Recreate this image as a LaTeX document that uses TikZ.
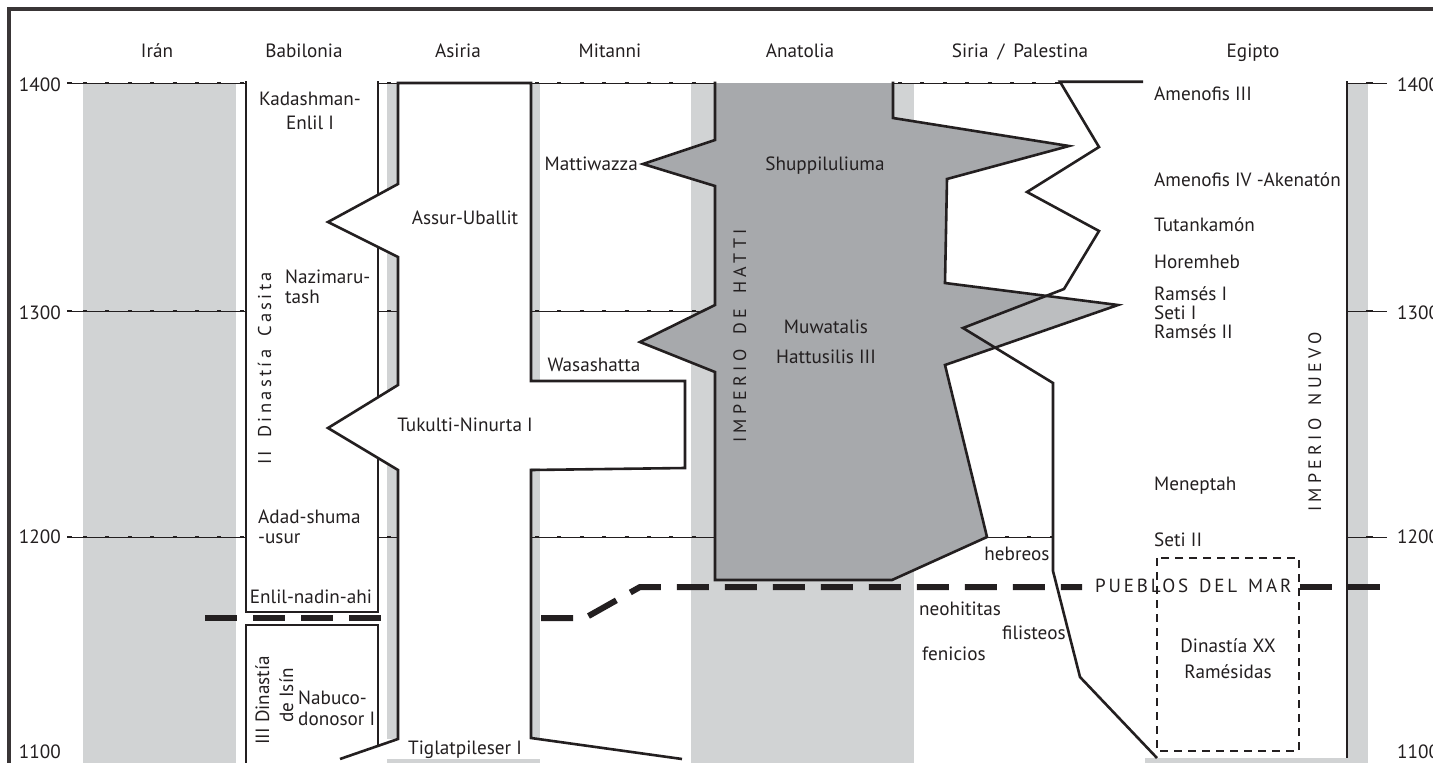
\documentclass[tikz,border=0pt]{standalone}
\usepackage{fontspec}
\setmainfont{PT Sans}
\definecolor{lg}{HTML}{D1D3D4}
\definecolor{dg}{HTML}{A7A9AC}
\definecolor{mg}{HTML}{BCBEC0}
\definecolor{ink}{HTML}{231F20}
\begin{document}
\begin{tikzpicture}[x=1pt,y=-1pt,
  bd/.style={draw=ink,line width=2.6pt,line join=miter},
  yrl/.style={draw=ink,line width=0.9pt},
  yrdots/.style={draw=ink,line width=2.6pt,dash pattern=on 4pt off 18.4pt},
  sea/.style={draw=ink,line width=6pt,dash pattern=on 32pt off 16pt},
  dbox/.style={draw=ink,line width=2pt,dash pattern=on 8pt off 6pt},
  lbl/.style={font=\fontsize{19.2}{21}\selectfont,text=ink,inner sep=0pt},
  spaced/.style={font=\fontsize{18}{20}\selectfont\addfontfeatures{LetterSpace=24},text=ink,inner sep=0pt},
  spacedlow/.style={font=\fontsize{18.5}{20}\selectfont\addfontfeatures{LetterSpace=18},text=ink,inner sep=0pt},
  spacedsea/.style={font=\fontsize{19}{21}\selectfont\addfontfeatures{LetterSpace=15},text=ink,inner sep=0pt},
]
\useasboundingbox (0,0) rectangle (1433,763);
\fill[white] (0,0) rectangle (1433,763);
% frame
\draw[draw=ink!90,line width=3.5pt] (9,763) -- (9,9) -- (1433,9);
% light gray columns
\fill[lg] (83,83) rectangle (236,763);
\fill[lg] (387,83) rectangle (398,739);
\fill[lg] (387,759) rectangle (540,763);
\fill[lg] (531,83) rectangle (540,381);
\fill[lg] (531,468) rectangle (540,738);
\fill[lg] (691,83) rectangle (914,763);
\fill[lg] (1347,83) rectangle (1368,763);
\fill[lg] (1145,758) rectangle (1368,763);
\fill[white] (398,184) -- (328,222) -- (398,257) -- cycle;
\fill[white] (398,385) -- (328,428) -- (398,470) -- cycle;
% year lines
\foreach \y in {83,311,537}{
  \draw[ink,line width=2.6pt] (67,\y) -- (72,\y);
  \draw[yrl] (72,\y) -- (246,\y);
  \draw[yrdots] (83,\y) -- (246,\y);
  \draw[yrl] (378,\y) -- (398,\y);
  \draw[yrdots] (387,\y) -- (398,\y);
  \draw[yrl] (1347,\y) -- (1387,\y);
  \draw[ink,line width=2.6pt] (1366,\y) -- (1373,\y);
}
\draw[yrl] (531,83) -- (715,83);
\draw[yrdots] (535,83) -- (715,83);
\draw[yrl] (531,311) -- (703,311);
\draw[yrdots] (535,311) -- (703,311);
\draw[yrl] (531,537) -- (715,537);
\draw[yrdots] (535,537) -- (715,537);
\draw[yrl] (893,83) -- (1060,83);
\draw[yrdots] (898,83) -- (1060,83);
\draw[yrl] (987,537) -- (1053,537);
\draw[yrdots] (1005,537) -- (1053,537);
% Hatti
\fill[dg] (715,83) -- (715,140) -- (643,164) -- (715,186) -- (715,305) -- (640,342) -- (715,372) -- (715,580) -- (892,580) -- (987,537) -- (945,365) -- (1118,305) -- (945,283) -- (947,179) -- (1069,146) -- (893,118) -- (893,83) -- cycle;
\fill[mg] (1046.6,295.9) -- (1118,305) -- (994.3,347.2) -- (963,328) -- cycle;
\draw[bd] (715,81.7) -- (715,140) -- (643,164) -- (715,186) -- (715,305) -- (640,342) -- (715,372) -- (715,580) -- (892,580) -- (987,537) -- (945,365) -- (1118,305) -- (945,283) -- (947,179) -- (1069,146) -- (893,118) -- (893,81.7);
% Siria / Palestina line
\draw[bd] (1143,81.7) -- (1060,81.7) -- (1099,147) -- (1027,192) -- (1099,231) -- (1064,289) -- (963,328) -- (1053,383) -- (1053,571) -- (1080,677) -- (1157,758);
% Egypt
\draw[bd] (1347,81) -- (1347,758);
\draw[dbox] (1157,558) rectangle (1299,751);
% Babilonia
\draw[bd] (378,81) -- (378,195);
\draw[bd] (378,247) -- (378,397);
\draw[bd] (378,458) -- (378,612) -- (246,612) -- (246,81);
\draw[bd] (246,763) -- (246,625) -- (378,625) -- (378,746);
% Asiria
\draw[bd] (340,759) -- (398,739) -- (398,470) -- (328,428) -- (398,385) -- (398,257) -- (328,222) -- (398,184) -- (398,83) -- (531,83) -- (531,381) -- (685,381) -- (685,468) -- (531,470) -- (531,738) -- (682,759);
% Pueblos del mar
\draw[sea] (205,618) -- (383,618);
\draw[sea] (541,618) -- (585,618) -- (640,587) -- (1082,587);
\draw[sea] (1300,587) -- (1380,587);
% headers
\node[lbl,anchor=base] (hIran) at (157,57) {Irán};
\node[lbl,anchor=base] (hBab) at (304,57) {Babilonia};
\node[lbl,anchor=base] (hAsi) at (458,57) {Asiria};
\node[lbl,anchor=base] (hMit) at (610,57) {Mitanni};
\node[lbl,anchor=base] (hAna) at (800,57) {Anatolia};
\node[lbl,anchor=base] (hSir) at (1020,57) {Siria\hspace{9pt}/\hspace{9pt}Palestina};
\node[lbl,anchor=base] (hEgi) at (1253,57) {Egipto};
% years
\node[lbl,anchor=base east] (yl14) at (61,91.5) {1400};
\node[lbl,anchor=base east] (yl13) at (61,319) {1300};
\node[lbl,anchor=base east] (yl12) at (61,543) {1200};
\node[lbl,anchor=base east] (yl11) at (61,758) {1100};
\node[lbl,anchor=base west] (yr14) at (1397,91.5) {1400};
\node[lbl,anchor=base west] (yr13) at (1397,319) {1300};
\node[lbl,anchor=base west] (yr12) at (1397,543) {1200};
\node[lbl,anchor=base west] (yr11) at (1397,758) {1100};
% Babilonia
\node[lbl,anchor=base] (kad1) at (310,105) {Kadashman-};
\node[lbl,anchor=base] (kad2) at (310,129) {Enlil I};
\node[lbl,anchor=base west] (naz1) at (285,283) {Nazimaru-};
\node[lbl,anchor=base west] (naz2) at (285,303) {tash};
\node[lbl,anchor=base west] (adad1) at (258,523) {Adad-shuma};
\node[lbl,anchor=base west] (adad2) at (258,543) {-usur};
\node[lbl,anchor=base] (enlil) at (311,603) {Enlil-nadin-ahi};
\node[lbl,anchor=base west] (nab1) at (298,704) {Nabuco-};
\node[lbl,anchor=base west] (nab2) at (298,725) {donosor I};
\node[spacedlow,anchor=base west,rotate=90] (kas) at (271,465) {II\hspace{5pt} Dinastía\hspace{5pt} Casita};
\node[lbl,anchor=base west,rotate=90] (isin1) at (269,745) {III Dinastía};
\node[lbl,anchor=base west,rotate=90] (isin2) at (293,723) {de Isín};
% Asiria
\node[lbl,anchor=base] (assur) at (465,224) {Assur-Uballit};
\node[lbl,anchor=base] (tuk) at (465,431) {Tukulti-Ninurta I};
\node[lbl,anchor=base] (tig) at (465,754) {Tiglatpileser I};
% Mitanni
\node[lbl,anchor=base east] (matt) at (638,170) {Mattiwazza};
\node[lbl,anchor=base] (wasa) at (594,371) {Wasashatta};
% Anatolia
\node[lbl,anchor=base] (shup) at (825,170) {Shuppiluliuma};
\node[lbl,anchor=base] (muwa) at (826,333) {Muwatalis};
\node[lbl,anchor=base] (hatt) at (826,363) {Hattusilis III};
\node[spaced,anchor=base west,rotate=90] (hatti) at (746,443) {IMPERIO\hspace{6pt} DE\hspace{6pt} HATTI};
% Siria
\node[lbl,anchor=base] (heb) at (1017,560) {hebreos};
\node[lbl,anchor=base west] (neo) at (919,615) {neohititas};
\node[lbl,anchor=base west] (fil) at (1002,639) {filisteos};
\node[lbl,anchor=base west] (fen) at (922,660) {fenicios};
% Egipto
\node[lbl,anchor=base west] (am3) at (1154,100) {Amenofis III};
\node[lbl,anchor=base west] (am4) at (1154,186) {Amenofis IV -Akenatón};
\node[lbl,anchor=base west] (tut) at (1154,231) {Tutankamón};
\node[lbl,anchor=base west] (hor) at (1154,268) {Horemheb};
\node[lbl,anchor=base west] (ra1) at (1154,300) {Ramsés I};
\node[lbl,anchor=base west] (se1) at (1154,319) {Seti I};
\node[lbl,anchor=base west] (ra2) at (1154,338) {Ramsés II};
\node[lbl,anchor=base west] (men) at (1154,490) {Meneptah};
\node[lbl,anchor=base west] (se2) at (1154,546) {Seti II};
\node[spaced,anchor=base west,rotate=90] (nuevo) at (1321,512) {IMPERIO\hspace{4pt} NUEVO};
\node[lbl,anchor=base] (din) at (1228,652) {Dinastía XX};
\node[lbl,anchor=base] (ram) at (1228,678) {Ramésidas};
\node[spacedsea,anchor=base west] (pueblos) at (1095,592) {PUEBLOS\hspace{3pt} DEL\hspace{3pt} MAR};
\end{tikzpicture}
\end{document}
